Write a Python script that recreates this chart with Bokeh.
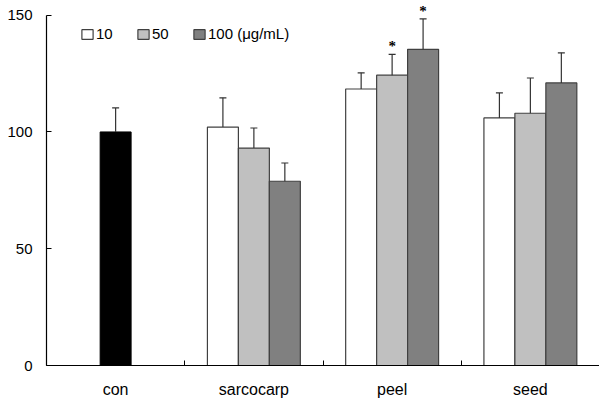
from bokeh.plotting import figure
from bokeh.models import (Range1d, FixedTicker, Whisker, TeeHead, ColumnDataSource,
                          Legend, LegendItem, LabelSet)
from bokeh.embed import file_html
from bokeh.resources import INLINE

# ---- data ----
categories = ["con", "sarcocarp", "peel", "seed"]
doses = ["10", "50", "100 (μg/mL)"]
con_value = [100.0]
con_error = [10.3]
sarcocarp = [102.1, 93.1, 78.9]
peel = [118.4, 124.3, 135.4]
seed = [106.0, 108.0, 121.0]
sarcocarp_err = [12.5, 8.6, 7.8]
peel_err = [6.9, 8.9, 13.0]
seed_err = [10.7, 15.1, 12.9]
sarcocarp_sig = ["", "", ""]
peel_sig = ["", "*", "*"]
seed_sig = ["", "", ""]
y_ticks = [0, 50, 100, 150]

# ---- style ----
FONT = "Liberation Sans"
dose_colors = ["#ffffff", "#c0c0c0", "#808080"]
con_color = "#000000"
edge = "#404040"
bar_w = 0.224

p = figure(width=599, height=402, output_backend="svg", toolbar_location=None,
           x_range=Range1d(0, len(categories)), y_range=Range1d(0, 155),
           min_border_left=46, min_border_right=0, min_border_top=3,
           min_border_bottom=37)
p.outline_line_color = None
p.xgrid.visible = False
p.ygrid.visible = False
p.background_fill_color = "white"
p.border_fill_color = "white"

centers = [i + 0.5 for i in range(len(categories))]
offsets = [-bar_w, 0.0, bar_w]

# control bar
con_src = ColumnDataSource(dict(x=[centers[0]], top=con_value))
p.vbar(x="x", top="top", width=bar_w, source=con_src, fill_color=con_color,
       line_color=con_color, line_width=1)

groups = [sarcocarp, peel, seed]
group_err = [sarcocarp_err, peel_err, seed_err]
group_sig = [sarcocarp_sig, peel_sig, seed_sig]

wx, wtop, wup = [centers[0]], [con_value[0]], [con_value[0] + con_error[0]]
sx, sy, st = [], [], []
legend_items = []
for j, dose in enumerate(doses):
    xs = [centers[g + 1] + offsets[j] for g in range(len(groups))]
    tops = [groups[g][j] for g in range(len(groups))]
    ups = [groups[g][j] + group_err[g][j] for g in range(len(groups))]
    src = ColumnDataSource(dict(x=xs, top=tops))
    r = p.vbar(x="x", top="top", width=bar_w, source=src,
               fill_color=dose_colors[j], line_color=edge, line_width=1.2)
    legend_items.append(LegendItem(label=dose, renderers=[r]))
    wx += xs
    wtop += tops
    wup += ups
    for g in range(len(groups)):
        if group_sig[g][j]:
            sx.append(xs[g])
            sy.append(ups[g])
            st.append(group_sig[g][j])

wsrc = ColumnDataSource(dict(x=wx, top=wtop, upper=wup))
whisk = Whisker(source=wsrc, base="x", upper="upper", lower="top", dimension="height",
                upper_head=TeeHead(size=7, line_color="#333333", line_width=1.2),
                lower_head=None, line_color="#333333", line_width=1.2, level="overlay")
p.add_layout(whisk)

ssrc = ColumnDataSource(dict(x=sx, y=sy, text=st))
stars = LabelSet(x="x", y="y", text="text", source=ssrc, text_align="center",
                 text_baseline="alphabetic", y_offset=3, text_font=FONT,
                 text_font_size="15px", text_font_style="bold", text_color="#000000")
p.add_layout(stars)

legend = Legend(items=legend_items, orientation="horizontal", location=(34, 323),
                padding=0, margin=0, spacing=20, label_standoff=2,
                glyph_width=14, glyph_height=12,
                label_text_font=FONT, label_text_font_size="15px",
                label_text_color="#000000",
                border_line_alpha=0, background_fill_alpha=0)
p.add_layout(legend)

# x axis
xa = p.xaxis[0]
xa.ticker = FixedTicker(ticks=centers, minor_ticks=list(range(len(categories) + 1)))
xa.major_label_overrides = {c: lab for c, lab in zip(centers, categories)}
xa.major_tick_in = 0
xa.major_tick_out = 0
xa.minor_tick_in = 5
xa.minor_tick_out = 0
xa.minor_tick_line_color = "black"
xa.axis_line_color = "black"
xa.axis_line_width = 1.2
xa.major_label_standoff = 15
xa.major_label_text_font = FONT
xa.major_label_text_font_size = "16px"
xa.major_label_text_color = "black"

# y axis
ya = p.yaxis[0]
ya.ticker = FixedTicker(ticks=y_ticks, minor_ticks=[])
ya.bounds = (y_ticks[0], y_ticks[-1])
ya.major_tick_in = 5
ya.major_tick_out = 0
ya.major_tick_line_color = "black"
ya.axis_line_color = "black"
ya.axis_line_width = 1.2
ya.major_label_standoff = 14
ya.major_label_text_font = FONT
ya.major_label_text_font_size = "15px"
ya.major_label_text_color = "black"

open("out.html", "w").write(file_html(p, INLINE))
